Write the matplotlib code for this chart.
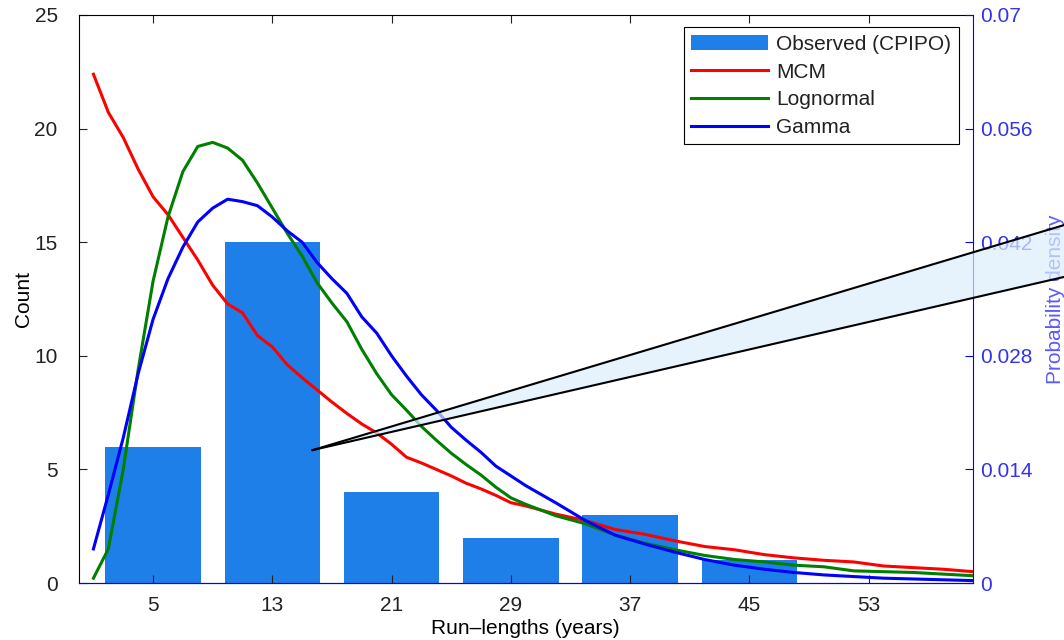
import matplotlib
matplotlib.use('Agg')
import matplotlib.pyplot as plt
from matplotlib.patches import Polygon

plt.rcParams['font.family'] = ['Liberation Sans', 'DejaVu Sans']

# observed run-length histogram (CPIPO)
bin_centres = [5, 13, 21, 29, 37, 45]
obs_counts = [6, 15, 4, 2, 3, 1]

# fitted densities, evaluated at run-length in years
yrs = [1, 2, 3, 4, 5, 6, 7, 8, 9, 10, 11, 12, 13, 14, 15, 16, 17, 18, 19, 20,
       21, 22, 23, 24, 25, 26, 27, 28, 29, 30, 32, 34, 36, 38, 40, 42, 44, 46,
       48, 50, 52, 54, 56, 58, 60]
mcm = [0.0627, 0.0580, 0.0549, 0.0510, 0.0476, 0.0454, 0.0426, 0.0398, 0.0367,
       0.0344, 0.0333, 0.0305, 0.0291, 0.0269, 0.0253, 0.0238, 0.0223, 0.0209,
       0.0196, 0.0185, 0.0171, 0.0155, 0.0148, 0.0140, 0.0132, 0.0123, 0.0116,
       0.0108, 0.0099, 0.0095, 0.0085, 0.0077, 0.0066, 0.0060, 0.0052, 0.0045,
       0.0041, 0.0035, 0.0031, 0.0028, 0.0026, 0.0021, 0.0019, 0.0017, 0.0014]
lognormal = [0.0006, 0.0042, 0.0140, 0.0263, 0.0372, 0.0451, 0.0507, 0.0538,
             0.0543, 0.0536, 0.0521, 0.0493, 0.0462, 0.0431, 0.0403, 0.0370,
             0.0345, 0.0322, 0.0288, 0.0258, 0.0232, 0.0213, 0.0193, 0.0176,
             0.0160, 0.0146, 0.0133, 0.0118, 0.0105, 0.0097, 0.0083, 0.0073,
             0.0059, 0.0049, 0.0041, 0.0034, 0.0029, 0.0026, 0.0022, 0.0020,
             0.0015, 0.0014, 0.0013, 0.0011, 0.0009]
gamma = [0.0042, 0.0109, 0.0179, 0.0258, 0.0325, 0.0375, 0.0414, 0.0445, 0.0462,
         0.0473, 0.0470, 0.0465, 0.0451, 0.0434, 0.0420, 0.0395, 0.0375, 0.0357,
         0.0328, 0.0308, 0.0280, 0.0255, 0.0232, 0.0213, 0.0192, 0.0176, 0.0161,
         0.0144, 0.0132, 0.0120, 0.0099, 0.0077, 0.0059, 0.0048, 0.0038, 0.0029,
         0.0022, 0.0017, 0.0013, 0.0010, 0.0008, 0.0006, 0.0005, 0.0004, 0.0003]

# zoom wedge (count coords): apex, then upper and lower far ends
wedge_x = [15.7, 70, 70]
wedge_y = [5.85, 16.52, 14.06]

FS = 15

fig = plt.figure(figsize=(10.64, 6.4), dpi=100)
ax1 = fig.add_axes([0.0738, 0.089, 0.8407, 0.8876])
ax2 = ax1.twinx()

bars = ax1.bar(bin_centres, obs_counts, width=6.4, color='#1f7fe8',
               label='Observed (CPIPO)')
ax1.set_xlim(0, 60)
ax1.set_ylim(0, 25)
ax1.set_xticks([5, 13, 21, 29, 37, 45, 53])
ax1.set_yticks([0, 5, 10, 15, 20, 25])
ax1.tick_params(direction='in', top=True, right=False, length=6,
                labelsize=FS, colors='#222222')
ax1.tick_params(axis='y', pad=15)
ax1.tick_params(axis='x', pad=9)
ax1.set_xlabel('Run\u2013lengths (years)', fontsize=FS, labelpad=3)
ax1.set_ylabel('Count', fontsize=FS, labelpad=1)
ax1.spines['right'].set_visible(False)
ax1.spines['bottom'].set_color('#0000ff')

l1, = ax2.plot(yrs, mcm, color='#ff0000', lw=2.2, label='MCM')
l2, = ax2.plot(yrs, lognormal, color='#008000', lw=2.2, label='Lognormal')
l3, = ax2.plot(yrs, gamma, color='#0000ff', lw=2.2, label='Gamma')
ax2.set_ylim(0, 0.07)
ax2.set_yticks([0, 0.014, 0.028, 0.042, 0.056, 0.07])
ax2.set_yticklabels(['0', '0.014', '0.028', '0.042', '0.056', '0.07'])
ax2.tick_params(axis='y', direction='in', length=6, colors='#0000ff',
                labelcolor='#3333ee', labelsize=FS, pad=5)
ax2.set_ylabel('Probability density', color='#5a5aff', fontsize=FS,
               labelpad=10)
ax2.spines['right'].set_color('#0000ff')
ax2.spines['bottom'].set_color('#0000ff')
ax2.spines['left'].set_visible(False)
ax2.spines['top'].set_visible(False)

leg = ax2.legend([bars, l1, l2, l3],
                 ['Observed (CPIPO)', 'MCM', 'Lognormal', 'Gamma'],
                 loc='upper right', bbox_to_anchor=(0.984, 0.978),
                 borderaxespad=0, fontsize=FS, handlelength=3.7,
                 handletextpad=0.4, labelspacing=0.42, borderpad=0.35,
                 fancybox=False, framealpha=1, edgecolor='black')
leg.get_frame().set_linewidth(0.8)
for t in leg.get_texts():
    t.set_color('#222222')

# thin zoom wedge running off to the right edge
wedge = Polygon(list(zip(wedge_x, wedge_y)), closed=True,
                facecolor='#dceefc', alpha=0.7, edgecolor='none',
                transform=ax1.transData, clip_on=False, zorder=10)
ax2.add_patch(wedge)
ax2.plot(wedge_x[:2], wedge_y[:2], color='black', lw=1.5,
         transform=ax1.transData, clip_on=False, zorder=11)
ax2.plot([wedge_x[0], wedge_x[2]], [wedge_y[0], wedge_y[2]], color='black',
         lw=1.5, transform=ax1.transData, clip_on=False, zorder=11)

plt.savefig('out.png', dpi=100)
